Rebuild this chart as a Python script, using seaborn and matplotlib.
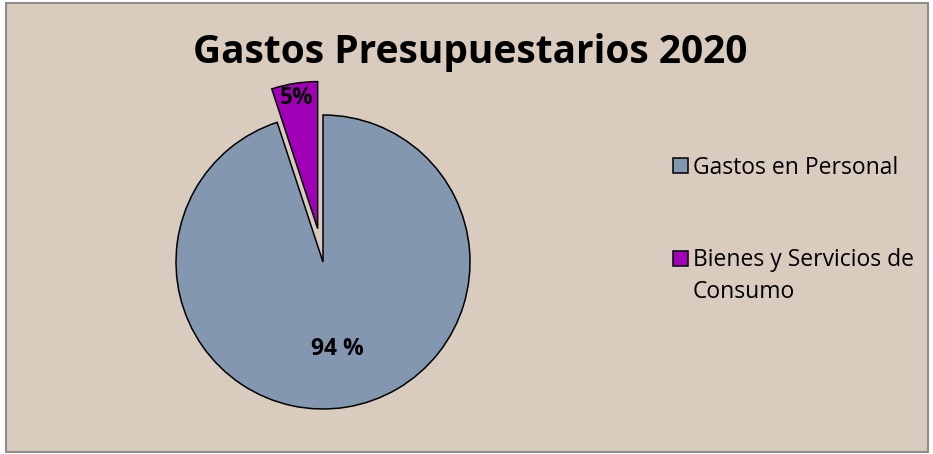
import numpy as np
import seaborn as sns
import matplotlib.pyplot as plt
from matplotlib.patches import Rectangle
from matplotlib.legend_handler import HandlerPatch

categories = ['Gastos en Personal', 'Bienes y Servicios de\nConsumo']
values = [94, 5]
pct_labels = ['94 %', '5%']
explode = [0, 0.23]

sns.set_style('white')
plt.rcParams['font.family'] = ['Open Sans', 'DejaVu Sans']
plt.rcParams['text.color'] = 'black'

colors = ['#8497B0', '#A100B8']

W, H = 933, 454
fig = plt.figure(figsize=(W / 100, H / 100), dpi=100, facecolor='white')

# tan panel with grey border
fig.patches.append(Rectangle((6 / W, 2 / H), 922 / W, 449 / H, transform=fig.transFigure,
                             facecolor='#D9CBBD', edgecolor='#8C8C8C', linewidth=1.5, zorder=-5))

# pie axes: radius 1 == 147 px, centred at (323, 262)
R = 147
lim = 1.3
side = 2 * lim * R
cx, cy = 323, 262
ax = fig.add_axes([(cx - side / 2) / W, (H - cy - side / 2) / H, side / W, side / H])
ax.set_facecolor('none')
ax.set_zorder(2)

it = iter(pct_labels)
wedges, _, autotexts = ax.pie(values, colors=colors, explode=explode, startangle=90,
                              counterclock=False, pctdistance=0.6,
                              autopct=lambda p: next(it),
                              wedgeprops=dict(edgecolor='black', linewidth=1.1))
for t in autotexts:
    t.set_fontsize(16.5)
    t.set_fontweight('bold')
    t.set_color('black')

# push the small slice label out towards the rim
w = wedges[1]
mid = np.deg2rad((w.theta1 + w.theta2) / 2)
x, y = autotexts[1].get_position()
autotexts[1].set_position((x + 0.30 * np.cos(mid), y + 0.30 * np.sin(mid)))

ax.set_xlim(-lim, lim)
ax.set_ylim(-lim, lim)
ax.set_aspect('equal')
ax.axis('off')

fig.text(470 / W, 1 - 52 / H, 'Gastos Presupuestarios 2020', ha='center', va='center',
         fontsize=28, fontweight='bold', color='black')


# marker of a two-line entry sits beside the first line
def first_line_patch(legend, orig_handle, xdescent, ydescent, width, height, fontsize):
    return Rectangle((-xdescent, -ydescent + 13.5), width, height)


leg = fig.legend(wedges, categories, loc='upper left', bbox_to_anchor=(652 / W, 1 - 135 / H),
                 frameon=False, fontsize=16.5, handlelength=0.65, handleheight=0.65,
                 handletextpad=0.22, labelspacing=3.0,
                 handler_map={wedges[1]: HandlerPatch(patch_func=first_line_patch)})
for txt in leg.get_texts():
    txt.set_linespacing(1.45)
    txt.set_color('black')

fig.savefig('out.png', dpi=100, facecolor='white')
